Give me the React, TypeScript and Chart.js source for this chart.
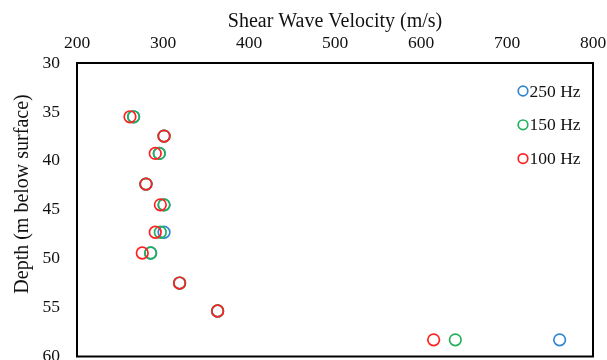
import React, { useEffect, useRef } from 'react';
import { Chart, registerables } from 'chart.js';

Chart.register(...registerables);

const depths = [35.5, 37.47, 39.24, 42.38, 44.5, 47.3, 49.42, 52.49, 55.35, 58.3];
const vel250 = [265.8, 301.2, 295.7, 280.2, 301.2, 301.2, 285.6, 319.3, 363.5, 761.2];
const vel150 = [265.8, 301.2, 295.7, 280.2, 301.2, 296.9, 285.6, 319.3, 363.5, 639.9];
const vel100 = [261.6, 301.2, 291.0, 280.2, 296.9, 291.0, 275.9, 319.3, 363.5, 614.7];

const seriesLabels = ['250 Hz', '150 Hz', '100 Hz'];
const seriesColors = ['#2E86D0', '#22B05A', '#FF2020'];
const xTitle = 'Shear Wave Velocity (m/s)';
const yTitle = 'Depth (m below surface)';
const xMin = 200, xMax = 800, xStep = 100;
const yMin = 30, yMax = 60, yStep = 5;

const FONT = "'Liberation Serif', 'Times New Roman', serif";

const toPts = (vs: number[]) => vs.map((v, i) => ({ x: v, y: depths[i] }));

const framePlugin = {
  id: 'frameAndLegend',
  afterDraw(chart: any) {
    const { ctx, chartArea } = chart;
    const { left, top, right, bottom } = chartArea;
    ctx.save();
    ctx.strokeStyle = '#000';
    ctx.lineWidth = 2;
    ctx.strokeRect(left, top, right - left, bottom - top);

    // legend inside plot
    const ds = chart.data.datasets;
    ctx.font = `17.5px ${FONT}`;
    ctx.textBaseline = 'middle';
    ctx.textAlign = 'left';
    ds.forEach((d: any, i: number) => {
      const cx = right - 70;
      const cy = top + 28 + i * 33.8;
      ctx.beginPath();
      ctx.arc(cx, cy, 4.8, 0, Math.PI * 2);
      ctx.strokeStyle = d.borderColor;
      ctx.lineWidth = 1.7;
      ctx.stroke();
      ctx.fillStyle = '#111';
      ctx.fillText(d.label, cx + 6.5, cy + 1);
    });

    // y axis title
    ctx.save();
    ctx.translate(22.5, 194);
    ctx.rotate(-Math.PI / 2);
    ctx.font = `20px ${FONT}`;
    ctx.textAlign = 'center';
    ctx.textBaseline = 'middle';
    ctx.fillStyle = '#111';
    ctx.fillText(yTitle, 0, 0);
    ctx.restore();
    ctx.restore();
  },
};

export default function App() {
  const ref = useRef<HTMLCanvasElement>(null);
  useEffect(() => {
    if (!ref.current) return;
    const all = [vel250, vel150, vel100];
    const chart = new Chart(ref.current, {
      type: 'scatter',
      data: {
        datasets: all.map((vs, i) => ({
          label: seriesLabels[i],
          data: toPts(vs),
          borderColor: seriesColors[i],
          backgroundColor: 'rgba(0,0,0,0)',
          pointRadius: 5.8,
          pointBorderWidth: 1.7,
          pointHoverRadius: 5.8,
          order: 2 - i,
        })),
      },
      options: {
        responsive: false,
        animation: false,
        events: [],
        layout: { autoPadding: false, padding: { left: 0, top: 0, right: 14, bottom: 3.5 } },
        plugins: { legend: { display: false }, tooltip: { enabled: false } },
        scales: {
          x: {
            type: 'linear',
            position: 'top',
            min: xMin,
            max: xMax,
            grid: { display: false, drawTicks: false },
            border: { display: false },
            ticks: { stepSize: xStep, padding: 9, color: '#111', font: { family: FONT, size: 17.5 } },
            title: { display: true, text: xTitle, color: '#111', font: { family: FONT, size: 20 }, padding: { top: 10, bottom: 0 } },
            afterFit: (s: any) => { s.height = 63; s.paddingLeft = 0; s.paddingRight = 0; },
          },
          y: {
            type: 'linear',
            reverse: true,
            min: yMin,
            max: yMax,
            grid: { display: false, drawTicks: false },
            border: { display: false },
            ticks: { stepSize: yStep, padding: 17, color: '#111', font: { family: FONT, size: 17.5 } },
            afterFit: (s: any) => { s.width = 77; s.paddingTop = 0; s.paddingBottom = 0; },
          },
        },
      },
      plugins: [framePlugin],
    });
    return () => chart.destroy();
  }, []);
  return (
    <div style={{ position: 'fixed', left: 0, top: 0, width: 607, height: 360, background: '#fff' }}>
      <canvas ref={ref} width={607} height={360} style={{ display: 'block' }} />
    </div>
  );
}
